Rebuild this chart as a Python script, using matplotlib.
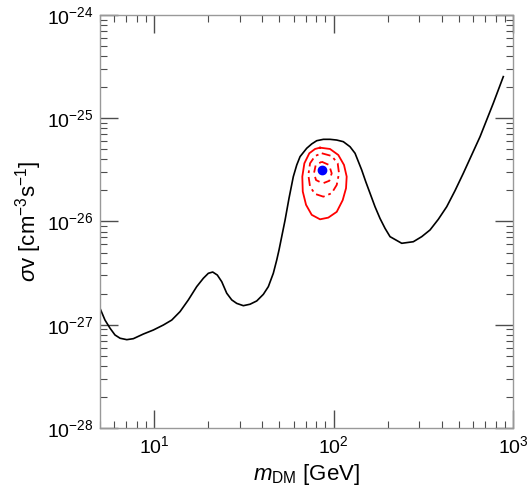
import matplotlib
matplotlib.use("Agg")
import matplotlib.pyplot as plt
from matplotlib.ticker import LogLocator, NullFormatter

plt.rcParams.update({"font.family": "Liberation Sans", "mathtext.fontset": "custom",
                     "mathtext.rm": "Liberation Sans", "mathtext.it": "Liberation Sans:italic",
                     "mathtext.bf": "Liberation Sans:bold"})

# limit curve: m_DM [GeV], sigma v [cm^3 s^-1]
m_limit = [5.00, 5.33, 5.69, 6.06, 6.47, 7.05, 7.67, 8.72, 9.91, 11.27, 12.55, 13.96, 15.53,
           17.29, 18.83, 20.07, 21.23, 22.52, 23.84, 25.41, 27.10, 28.89, 31.45, 34.26, 37.34,
           40.64, 43.34, 46.19, 48.27, 49.7, 53.7, 56.5, 59.7, 62.4, 65.1, 70.9, 75.6, 80.6,
           87.8, 95.6, 104.2, 113.4, 123.6, 131.8, 143.5, 151.2, 159.7, 170.3, 181.6, 193.6,
           206.5, 239.9, 278.4, 310.0, 344.9, 383.6, 427.2, 475.3, 528.6, 655.2, 776.8, 883.0]
sv_limit = [1.443e-27, 1.11e-27, 9.24e-28, 7.96e-28, 7.40e-28, 7.17e-28, 7.33e-28, 8.13e-28,
            8.89e-28, 9.94e-28, 1.11e-27, 1.34e-27, 1.74e-27, 2.34e-27, 2.82e-27, 3.15e-27,
            3.24e-27, 3.03e-27, 2.61e-27, 2.02e-27, 1.74e-27, 1.61e-27, 1.53e-27, 1.58e-27,
            1.70e-27, 1.97e-27, 2.34e-27, 3.15e-27, 4.24e-27, 5.30e-27, 1.03e-26, 1.68e-26,
            2.72e-26, 3.53e-26, 4.25e-26, 5.12e-26, 5.64e-26, 6.06e-26, 6.25e-26, 6.25e-26,
            6.15e-26, 5.93e-26, 5.30e-26, 4.58e-26, 3.16e-26, 2.43e-26, 1.88e-26, 1.39e-26,
            1.07e-26, 8.59e-27, 7.13e-27, 6.15e-27, 6.37e-27, 7.13e-27, 8.28e-27, 1.05e-26,
            1.39e-26, 1.99e-26, 2.93e-26, 6.63e-26, 1.40e-25, 2.53e-25]

# best-fit contours (outer solid, middle dash-dot, inner dashed)
m_outer = [84.1, 95.6, 106.3, 114.4, 118.4, 117.4, 112.5, 104.2, 93.5, 84.1, 75.6, 70.3,
           67.4, 67.0, 68.8, 73.3, 78.9]
sv_outer = [5.19e-26, 5.04e-26, 4.41e-26, 3.53e-26, 2.72e-26, 2.10e-26, 1.61e-26, 1.24e-26,
            1.09e-26, 1.05e-26, 1.16e-26, 1.45e-26, 1.95e-26, 2.72e-26, 3.66e-26, 4.58e-26,
            5.04e-26]
m_mid = [86.0, 97.7, 105.5, 107.3, 104.2, 97.7, 87.8, 78.9, 74.0, 72.4, 74.0, 78.9]
sv_mid = [4.58e-26, 4.31e-26, 3.66e-26, 2.93e-26, 2.26e-26, 1.88e-26, 1.74e-26, 1.85e-26,
          2.17e-26, 2.82e-26, 3.66e-26, 4.31e-26]
m_inner = [86.0, 94.4, 97.7, 94.8, 87.1, 79.9, 77.8, 79.6]
sv_inner = [3.79e-26, 3.53e-26, 2.93e-26, 2.48e-26, 2.34e-26, 2.52e-26, 2.93e-26, 3.53e-26]
m_best, sv_best = 86.0, 3.16e-26

fig = plt.figure(figsize=(5.28, 4.92), dpi=100)
ax = fig.add_axes([0.1894, 0.1301, 0.7822, 0.8394])
ax.set_xscale("log"); ax.set_yscale("log")

ax.plot(m_limit, sv_limit, color="black", lw=1.2)
close = lambda a: a + a[:1]
ax.plot(close(m_outer), close(sv_outer), color="red", lw=1.3)
ax.plot(close(m_mid), close(sv_mid), color="red", lw=1.3, ls=(0, (5, 2.2, 1.5, 2.2)))
ax.plot(close(m_inner), close(sv_inner), color="red", lw=1.3, ls=(0, (4, 2.5)))
ax.plot(m_best, sv_best, "o", color="blue", ms=6)

ax.set_xlim(5, 1000); ax.set_ylim(1e-28, 1e-24)
ax.xaxis.set_minor_locator(LogLocator(base=10, subs=range(2, 10), numticks=10))
ax.yaxis.set_minor_locator(LogLocator(base=10, subs=range(2, 10), numticks=10))
ax.xaxis.set_minor_formatter(NullFormatter()); ax.yaxis.set_minor_formatter(NullFormatter())
ax.set_xticks([10, 100, 1000], [r"10$^{1}$", r"10$^{2}$", r"10$^{3}$"])
ax.set_yticks([1e-28, 1e-27, 1e-26, 1e-25, 1e-24],
              [r"10$^{-28}$", r"10$^{-27}$", r"10$^{-26}$", r"10$^{-25}$", r"10$^{-24}$"])
ax.tick_params(which="both", direction="in", top=True, right=True, color="0.3", labelsize=14)
ax.tick_params(which="major", length=13, width=1.0, pad=5)
ax.tick_params(which="minor", length=5, width=0.8)
for s in ax.spines.values():
    s.set_color("0.6"); s.set_linewidth(1.0)

ax.set_xlabel(r"$m_{\rm DM}$ [GeV]", fontsize=16, labelpad=4)
ax.set_ylabel(r"$\sigma$v [cm$^{-3}$s$^{-1}$]", fontsize=16, labelpad=2)

fig.savefig("out.png", dpi=100)
